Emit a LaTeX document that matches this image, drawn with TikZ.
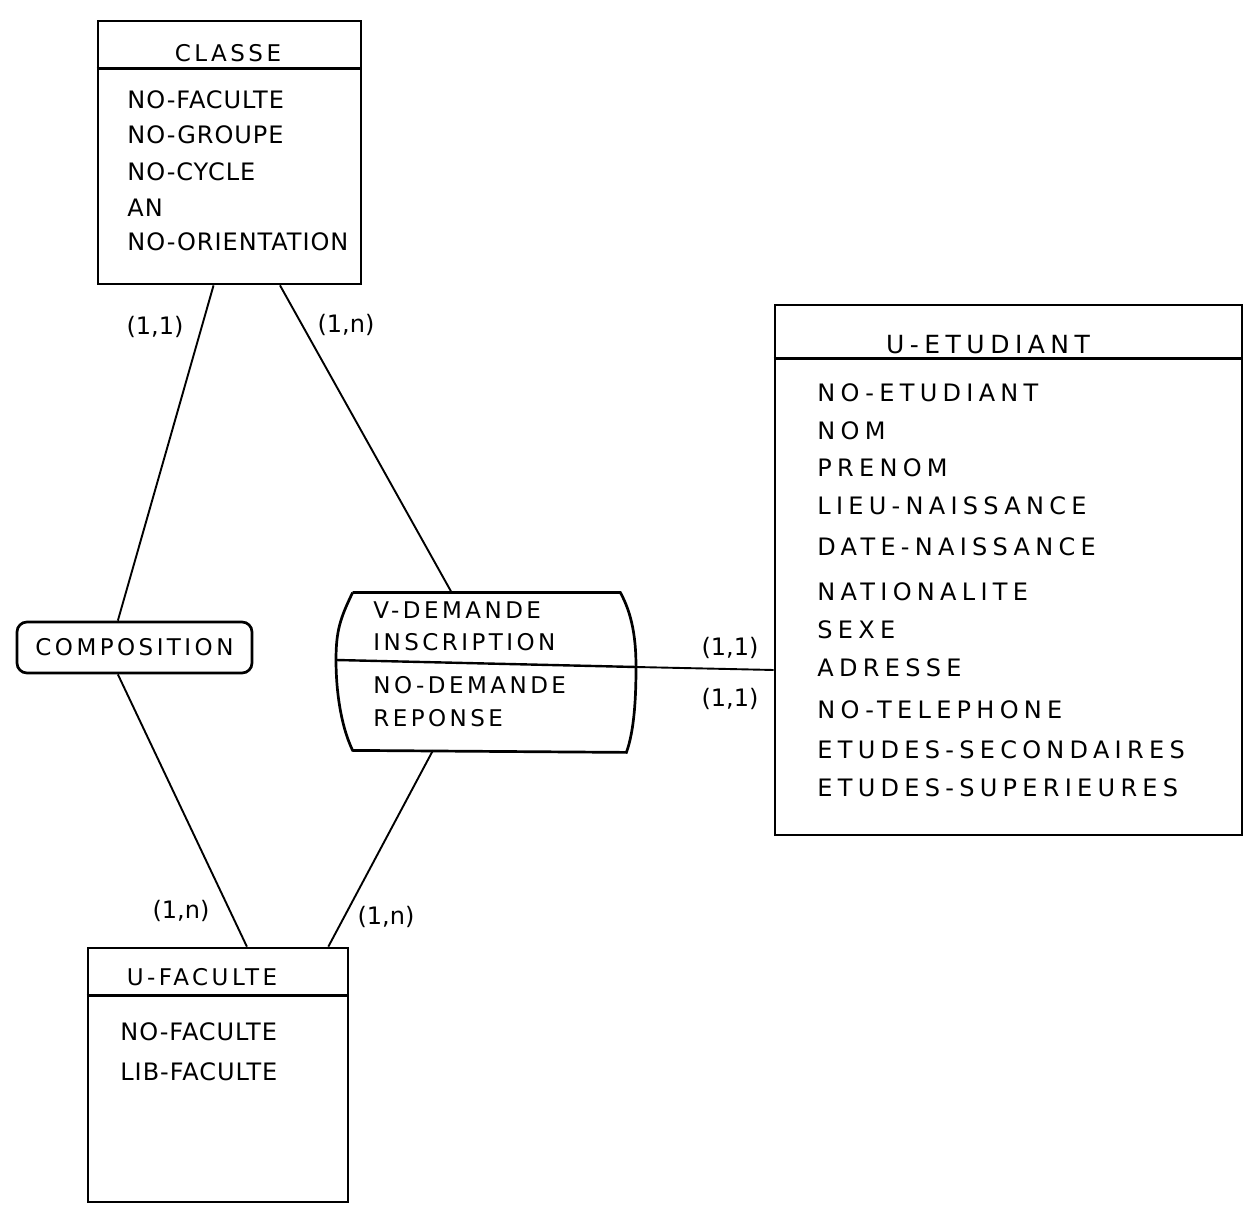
\documentclass[tikz,border=0pt]{standalone}
\usepackage{fontspec}
\setmainfont{DejaVu Sans}
\newfontfamily\attrfont[LetterSpace=4]{DejaVu Sans}
\newfontfamily\widefont[LetterSpace=22]{DejaVu Sans}
\newfontfamily\relfont[LetterSpace=15]{DejaVu Sans}
\usetikzlibrary{calc}

\begin{document}
\begin{tikzpicture}[x=0.5pt,y=-0.5pt,
  entity/.style={draw, line width=1.35pt, inner sep=0pt},
  sep/.style={line width=1.2pt},
  link/.style={line width=0.95pt},
  attr/.style={anchor=west, inner sep=0pt, font=\attrfont\fontsize{12}{14}\selectfont},
  wattr/.style={anchor=west, inner sep=0pt, font=\widefont\fontsize{12}{14}\selectfont},
  rattr/.style={anchor=west, inner sep=0pt, font=\relfont\fontsize{11.5}{14}\selectfont},
  title/.style={inner sep=0pt},
  card/.style={inner sep=0pt, font=\fontsize{12}{14}\selectfont}
]
\useasboundingbox[fill=white] (0,0) rectangle (1247,1218);

% ---------- entity CLASSE ----------
\node[entity, minimum width=131.5pt, minimum height=131.5pt] (cls) at (229.5,152.5) {};
\draw[sep] ($(cls.north west)+(0,49)$) -- ($(cls.north east)+(0,49)$);
\node[title, font=\relfont\fontsize{11.5}{14}\selectfont] (cls-t) at (228,53) {CLASSE};
\node[attr] (cls-1) at (127,100) {NO-FACULTE};
\node[attr] (cls-2) at (127,135) {NO-GROUPE};
\node[attr] (cls-3) at (127,172) {NO-CYCLE};
\node[attr] (cls-4) at (127,208) {AN};
\node[attr] (cls-5) at (127,242) {NO-ORIENTATION};

% ---------- entity U-ETUDIANT ----------
\node[entity, minimum width=233.5pt, minimum height=265pt] (etu) at (1008.5,570) {};
\draw[sep] ($(etu.north west)+(0,55)$) -- ($(etu.north east)+(0,55)$);
\node[title, font=\widefont\fontsize{12.5}{14}\selectfont] (etu-t) at (988,345) {U-ETUDIANT};
\node[wattr] (etu-1) at (817,393) {NO-ETUDIANT};
\node[wattr] (etu-2) at (817,431) {NOM};
\node[wattr] (etu-3) at (817,468) {PRENOM};
\node[wattr] (etu-4) at (817,506) {LIEU-NAISSANCE};
\node[wattr] (etu-5) at (817,547) {DATE-NAISSANCE};
\node[wattr] (etu-6) at (817,592) {NATIONALITE};
\node[wattr] (etu-7) at (817,630) {SEXE};
\node[wattr] (etu-8) at (817,668) {ADRESSE};
\node[wattr] (etu-9) at (817,710) {NO-TELEPHONE};
\node[wattr] (etu-10) at (817,750) {ETUDES-SECONDAIRES};
\node[wattr] (etu-11) at (817,788) {ETUDES-SUPERIEURES};

% ---------- entity U-FACULTE ----------
\node[entity, minimum width=130pt, minimum height=127pt] (fac) at (218,1075) {};
\draw[sep] ($(fac.north west)+(0,49)$) -- ($(fac.north east)+(0,49)$);
\node[title, font=\relfont\fontsize{11.5}{14}\selectfont] (fac-t) at (202,977) {U-FACULTE};
\node[attr] (fac-1) at (120,1032) {NO-FACULTE};
\node[attr] (fac-2) at (120,1072) {LIB-FACULTE};

% ---------- relation COMPOSITION ----------
\node[draw, line width=1.35pt, rounded corners=5pt, minimum width=117.5pt, minimum height=25.5pt,
      inner sep=0pt, font=\relfont\fontsize{11.5}{14}\selectfont] (comp) at (134.5,647.5) {COMPOSITION};

% ---------- relation V-DEMANDE INSCRIPTION ----------
\node[minimum width=133.5pt, minimum height=78.5pt, inner sep=0pt] (dem) at (486.5,671.5) {};
\coordinate (demL) at (336,660);
\coordinate (demR) at (636,667);
\draw[entity] (dem.north west) -- (dem.north east)
  .. controls +(12,22) and +(0,-28) .. (demR)
  .. controls +(0,30) and +(8,-22) .. ($(dem.south east)+(6,2)$)
  -- (dem.south west)
  .. controls +(-12,-25) and +(0,30) .. (demL)
  .. controls +(0,-30) and +(-12,25) .. (dem.north west);
\draw[sep] (demL) -- (demR);
\node[rattr] (dem-1) at (373,610) {V-DEMANDE};
\node[rattr] (dem-2) at (373,642) {INSCRIPTION};
\node[rattr] (dem-3) at (373,685) {NO-DEMANDE};
\node[rattr] (dem-4) at (373,718) {REPONSE};

% ---------- connectors ----------
\draw[link] ($(cls.south west)!0.44!(cls.south east)$) -- ($(comp.north west)!0.43!(comp.north east)$);
\draw[link] ($(cls.south west)!0.69!(cls.south east)$) -- ($(dem.north west)!0.37!(dem.north east)$);
\draw[link] ($(comp.south west)!0.43!(comp.south east)$) -- ($(fac.north west)!0.61!(fac.north east)$);
\draw[link] ($(dem.south west)!0.3!(dem.south east)$) -- ($(fac.north west)!0.92!(fac.north east)$);
\draw[link] (demR) -- ($(demR -| etu.west)+(0,3)$);

% ---------- cardinalities ----------
\node[card] (c1) at (155,327) {(1,1)};
\node[card] (c2) at (346,325) {(1,n)};
\node[card] (c3) at (181,911) {(1,n)};
\node[card] (c4) at (386,917) {(1,n)};
\node[card] (c5) at (730,648) {(1,1)};
\node[card] (c6) at (730,699) {(1,1)};
\end{tikzpicture}
\end{document}
